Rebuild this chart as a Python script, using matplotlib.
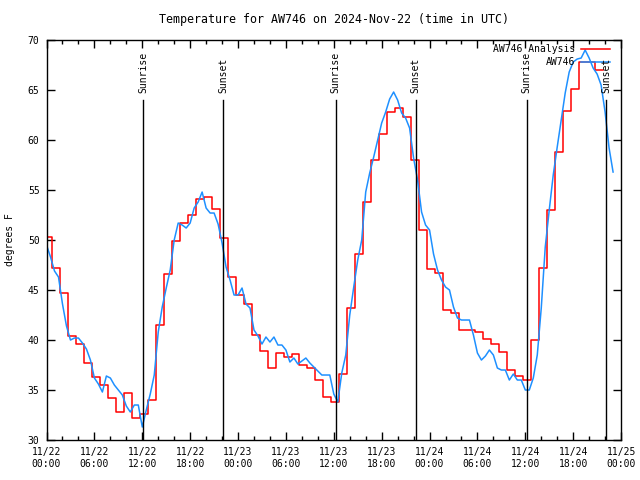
import matplotlib.pyplot as plt
import matplotlib.transforms as mtransforms
import numpy as np

# hourly analysis values (each value holds for one hour, starting at -0.3 h)
analysis = [50.3, 47.2, 44.7, 40.4, 39.6, 37.7, 36.3, 35.5, 34.2, 32.8,
            34.7, 32.2, 32.6, 34.0, 41.5, 46.6, 49.9, 51.7, 52.5, 54.1,
            54.3, 53.1, 50.2, 46.3, 44.5, 43.6, 40.5, 38.9, 37.2, 38.7,
            38.3, 38.6, 37.5, 37.2, 36.0, 34.3, 33.8, 36.6, 43.2, 48.6,
            53.8, 58.0, 60.6, 62.8, 63.2, 62.3, 58.0, 51.0, 47.1, 46.7,
            43.0, 42.7, 41.0, 41.0, 40.8, 40.1, 39.6, 38.8, 37.0, 36.4,
            36.0, 40.0, 47.2, 53.0, 58.8, 62.9, 65.1, 67.8, 67.8, 67.0]
analysis_start = -0.3

# station observations every 30 minutes from 11/22 00:00
obs = [49.5, 48.3, 46.9, 46.3, 43.6, 41.4, 40.0, 40.2, 40.2, 39.7,
       39.1, 38.0, 36.2, 35.6, 34.8, 36.4, 36.2, 35.5, 35.0, 34.5,
       33.4, 32.8, 33.5, 33.5, 31.3, 33.0, 34.6, 36.5, 40.8, 43.3,
       45.2, 47.0, 50.0, 51.7, 51.5, 51.2, 51.7, 53.2, 53.8, 54.8,
       53.2, 52.7, 52.7, 51.6, 49.7, 47.3, 46.0, 44.5, 44.5, 45.2,
       43.6, 43.2, 41.0, 40.4, 39.6, 40.3, 39.8, 40.3, 39.5, 39.5,
       39.0, 37.8, 38.2, 37.6, 37.9, 38.2, 37.7, 37.3, 36.9, 36.5,
       36.5, 36.5, 34.6, 33.8, 36.7, 38.5, 42.5, 45.3, 48.0, 50.0,
       54.8, 56.7, 58.3, 60.0, 61.7, 62.8, 64.1, 64.8, 64.0, 62.7,
       62.2, 61.2, 58.2, 56.0, 52.8, 51.5, 51.0, 48.6, 47.0, 46.0,
       45.3, 45.0, 43.3, 42.2, 42.0, 42.0, 42.0, 40.5, 38.7, 38.0,
       38.4, 39.0, 38.5, 37.2, 37.0, 37.0, 36.0, 36.6, 36.0, 36.0,
       35.0, 35.0, 36.2, 38.5, 43.2, 49.3, 53.0, 56.5, 59.3, 62.0,
       64.7, 66.8, 67.8, 68.1, 68.2, 69.0, 68.2, 67.2, 66.6, 65.5,
       62.8, 59.2, 56.8]
obs_step = 0.5

# hours after 11/22 00:00 UTC
sunrise = [12.13, 36.22, 60.18]
sunset = [22.1, 46.25, 70.1]

days = ["11/22", "11/23", "11/24", "11/25"]
hours = ["00:00", "06:00", "12:00", "18:00"]

plt.rcParams['font.family'] = 'DejaVu Sans Mono'
plt.rcParams['font.size'] = 7

fig = plt.figure(figsize=(6.4, 4.8), dpi=100)
ax = fig.add_axes([0.0727, 0.0833, 0.8977, 0.8333])

red_x = np.arange(len(analysis) + 1) + analysis_start
ax.plot(red_x, analysis + [analysis[-1]], color='red', lw=1.1,
        drawstyle='steps-post')
ax.plot(np.arange(len(obs)) * obs_step, obs, color='#1e90ff', lw=1.1)

trans = mtransforms.blended_transform_factory(ax.transData, ax.transAxes)
for name, times in (("Sunrise", sunrise), ("Sunset", sunset)):
    for h in times:
        ax.axvline(h, ymin=0, ymax=0.85, color='black', lw=1)
        ax.text(h, 0.868, name, transform=trans, rotation=90,
                ha='center', va='bottom')

# key in the top right, text on the left of the sample line
for row, (label, color) in enumerate((("AW746 Analysis", 'red'),
                                      ("AW746", '#1e90ff'))):
    y = 0.9775 - row * 0.0335
    ax.text(0.92, y, label, transform=ax.transAxes, ha='right', va='center')
    ax.plot([0.93, 0.981], [y, y], transform=ax.transAxes, color=color,
            lw=1.1, clip_on=False)

ax.set_xlim(0, 72)
ax.set_ylim(30, 70)
xt = list(range(0, 73, 6))
labels = []
for i in range(len(xt)):
    labels.append(days[i // 4] + "\n" + hours[i % 4])
ax.set_xticks(xt)
ax.set_xticklabels(labels)
ax.set_xticks(range(0, 73, 2), minor=True)
ax.set_yticks(range(30, 71, 5))
ax.tick_params(which='major', direction='in', top=True, right=True,
               length=6, width=1, pad=5)
ax.tick_params(which='minor', direction='in', top=True, right=True,
               length=3, width=1)
for s in ax.spines.values():
    s.set_linewidth(1)

ax.set_ylabel("degrees F", labelpad=9)
ax.set_title("Temperature for AW746 on 2024-Nov-22 (time in UTC)", pad=12)

fig.savefig("out.png", dpi=100)
